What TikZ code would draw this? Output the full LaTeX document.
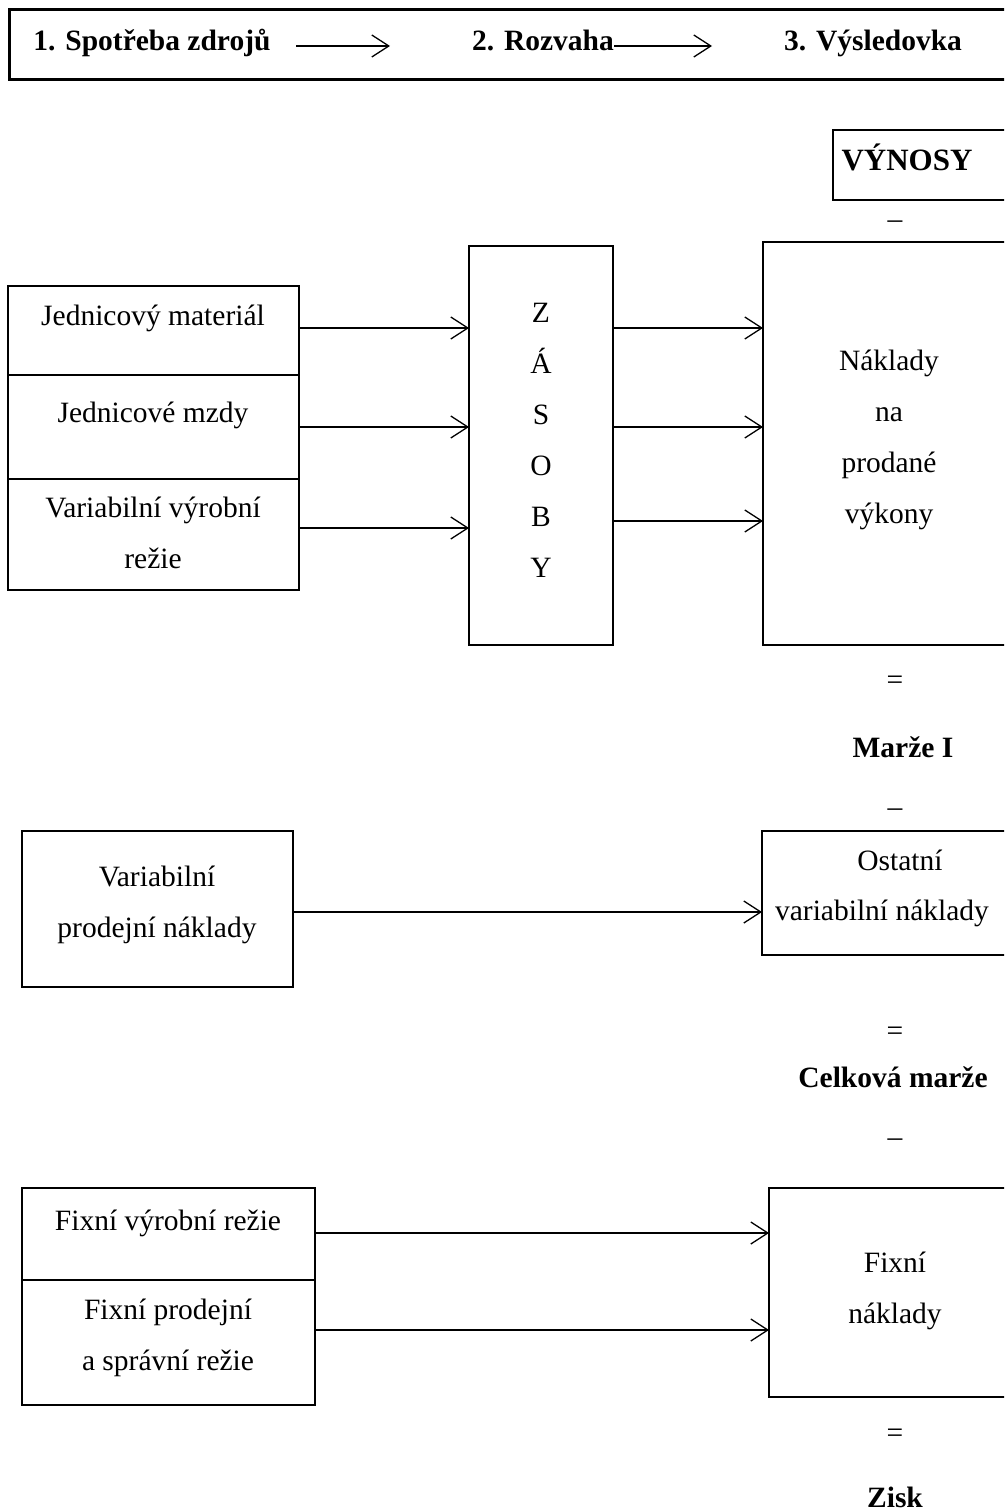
\documentclass[tikz,border=0pt]{standalone}
\usepackage{fontspec}
\setmainfont{Liberation Serif}
\usetikzlibrary{arrows.meta}
\begin{document}
\begin{tikzpicture}[x=1pt,y=-1pt,
  box/.style={draw, line width=2.6pt, anchor=north west, inner sep=0pt, outer sep=0pt},
  txt/.style={font=\fontsize{29.5pt}{51pt}\selectfont, inner sep=0pt, anchor=base},
  mtxt/.style={font=\fontsize{29.5pt}{51pt}\selectfont, align=center, inner sep=0pt, anchor=center},
  btxt/.style={font=\fontsize{29.5pt}{51pt}\selectfont\bfseries, inner sep=0pt, anchor=base},
  arr/.style={line width=1.3pt, -{Straight Barb[length=17pt,width=22pt,line width=1.3pt]}},
]
\useasboundingbox (0,0) rectangle (1004,1511);
\clip (0,0) rectangle (1004,1511);
\fill[white] (0,0) rectangle (1004,1511);

% header strip
\node[box, line width=3pt, minimum width=1030pt, minimum height=70pt] (head) at (9,10) {};
\node[btxt] (t1) at (152,51) {1. Spotřeba zdrojů};
\node[btxt] (t2) at (543,51) {2. Rozvaha};
\node[btxt] (t3) at (873,51) {3. Výsledovka};
\coordinate (h1a) at (296,46);
\coordinate (h1b) at (390,46);
\coordinate (h2a) at (614,46);
\coordinate (h2b) at (712,46);
\draw[arr] (h1a) -- (h1b);
\draw[arr] (h2a) -- (h2b);

% revenues
\node[box, minimum width=210pt, minimum height=70pt] (vyn) at (833,130) {};
\node[btxt, font=\fontsize{31pt}{51pt}\selectfont\bfseries] (vyntxt) at (907,171) {VÝNOSY};
\node[txt] (minus1) at (895,229) {–};

% direct costs
\node[box, minimum width=291pt, minimum height=89pt] (c1) at (8,286) {};
\node[box, minimum width=291pt, minimum height=104pt] (c2) at (8,375) {};
\node[box, minimum width=291pt, minimum height=111pt] (c3) at (8,479) {};
\node[txt] (c1t) at (153,325) {Jednicový materiál};
\node[txt] (c2t) at (153,422) {Jednicové mzdy};
\node[mtxt] (c3t) at (153,533) {Variabilní výrobní\\režie};

% inventories
\node[box, minimum width=144pt, minimum height=399pt] (zas) at (469,246) {};
\node[mtxt] (zast) at (541,440) {Z\\Á\\S\\O\\B\\Y};

% cost of goods sold
\node[box, minimum width=280pt, minimum height=403pt] (nak) at (763,242) {};
\node[mtxt] (nakt) at (889,440) {Náklady\\na\\prodané\\výkony};

\coordinate (r1) at (0,328);
\coordinate (r2) at (0,427);
\coordinate (r3) at (0,528);
\coordinate (r3b) at (0,521);
\draw[arr] (c1.east |- r1) -- (zas.west |- r1);
\draw[arr] (c2.east |- r2) -- (zas.west |- r2);
\draw[arr] (c3.east |- r3) -- (zas.west |- r3);
\draw[arr] (zas.east |- r1) -- (nak.west |- r1);
\draw[arr] (zas.east |- r2) -- (nak.west |- r2);
\draw[arr] (zas.east |- r3b) -- (nak.west |- r3b);

\node[txt] (eq1) at (895,689) {=};
\node[btxt] (m1) at (903,757) {Marže I};
\node[txt] (minus2) at (895,816) {–};

% variable selling costs
\node[box, minimum width=271pt, minimum height=156pt] (vpn) at (22,831) {};
\node[mtxt] (vpnt) at (157,905) {Variabilní\\prodejní náklady};
\node[box, minimum width=280pt, minimum height=124pt] (ost) at (762,831) {};
\node[txt] (ost1) at (900,870) {Ostatní};
\node[txt] (ost2) at (882,920) {variabilní náklady};
\coordinate (r4) at (0,912);
\draw[arr] (vpn.east |- r4) -- (ost.west |- r4);

\node[txt] (eq2) at (895,1040) {=};
\node[btxt] (cm) at (893,1087) {Celková marže};
\node[txt] (minus3) at (895,1146) {–};

% fixed costs
\node[box, minimum width=293pt, minimum height=92pt] (f1) at (22,1188) {};
\node[box, minimum width=293pt, minimum height=125pt] (f2) at (22,1280) {};
\node[txt] (f1t) at (168,1230) {Fixní výrobní režie};
\node[mtxt] (f2t) at (168,1338) {Fixní prodejní\\a správní režie};
\node[box, minimum width=275pt, minimum height=209pt] (fn) at (769,1188) {};
\node[mtxt] (fnt) at (895,1291) {Fixní\\náklady};
\coordinate (r5) at (0,1233);
\coordinate (r6) at (0,1330);
\draw[arr] (f1.east |- r5) -- (fn.west |- r5);
\draw[arr] (f2.east |- r6) -- (fn.west |- r6);

\node[txt] (eq3) at (895,1442) {=};
\node[btxt] (zisk) at (895,1507) {Zisk};
\end{tikzpicture}
\end{document}
